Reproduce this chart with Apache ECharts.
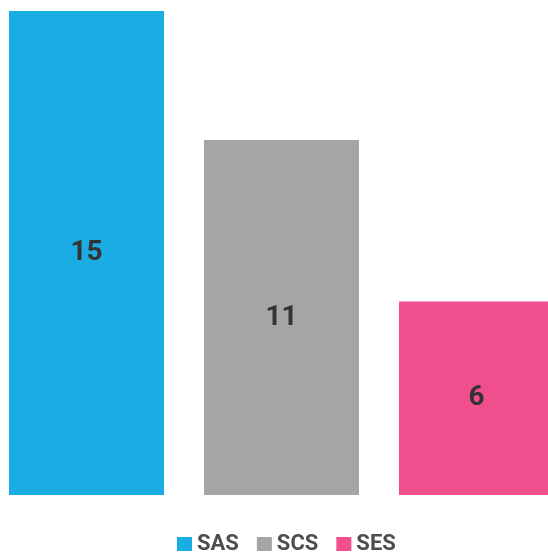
<!DOCTYPE html>
<html>
<head>
<meta charset="utf-8">
<style>
  html, body { margin: 0; padding: 0; background: #ffffff; overflow: hidden; width: 548px; height: 552px; position: relative; }
  /* plot area runs slightly past the window on both sides */
  #chart { position: absolute; left: -11px; top: 0; width: 585px; height: 552px; }
</style>
<script src="https://cdn.jsdelivr.net/npm/echarts@6/dist/echarts.min.js"></script>
</head>
<body>
<div id="chart"></div>
<script>
// Categories and their counts
const categories = ['SAS', 'SCS', 'SES'];
const values = [15, 11, 6];
const colors = ['#1aade3', '#a5a5a5', '#ef4f8d'];

const chart = echarts.init(document.getElementById('chart'));

// One series per category so each gets its own legend entry
const series = categories.map((name, i) => ({
  name: name,
  type: 'bar',
  barWidth: 155,
  barGap: '-100%',
  data: categories.map((c, j) => (j === i ? values[i] : '-')),
  itemStyle: { color: colors[i] },
  label: {
    show: true,
    position: 'inside',
    color: '#333333',
    fontFamily: 'Roboto',
    fontWeight: 'bold',
    fontSize: 28
  }
}));

chart.setOption({
  animation: false,
  grid: { left: 0, right: 0, top: 11, bottom: 57, containLabel: false },
  legend: {
    data: categories,
    top: 533,
    left: 188,
    padding: 0,
    itemWidth: 15,
    itemHeight: 14,
    itemGap: 18,
    icon: 'rect',
    textStyle: {
      color: '#4d4d4d',
      fontFamily: 'Roboto',
      fontWeight: 'bold',
      fontSize: 22
    }
  },
  xAxis: {
    type: 'category',
    data: categories,
    axisLine: { show: false },
    axisTick: { show: false },
    axisLabel: { show: false }
  },
  yAxis: {
    type: 'value',
    min: 0,
    max: 15,
    show: false,
    splitLine: { show: false }
  },
  series: series
});
</script>
</body>
</html>
